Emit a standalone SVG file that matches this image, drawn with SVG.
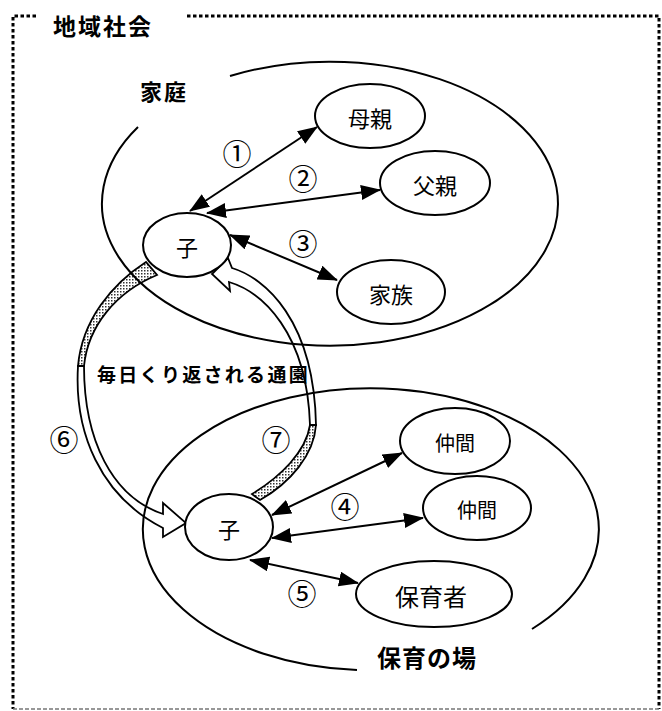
<svg xmlns="http://www.w3.org/2000/svg" width="662" height="711" viewBox="0 0 662 711">
<style>
.bg{fill:#fff}
.frame{fill:none;stroke:#000;stroke-width:3;stroke-dasharray:3.5 2.5}
.frame2{fill:none;stroke:#777;stroke-width:1.5;stroke-dasharray:4 2}
.region{fill:none;stroke:#000;stroke-width:2}
.node{fill:#fff;stroke:#000;stroke-width:2}
.conn{fill:none;stroke:#000;stroke-width:2}
.band{fill:#fff;stroke:#000;stroke-width:1.8;stroke-linejoin:miter}
.shade{fill:url(#stip);stroke:#000;stroke-width:1.8}
.lbl{font-family:"Noto Sans CJK JP","Noto Sans",sans-serif;font-size:22px;fill:#000;text-anchor:middle;dominant-baseline:central}
.sm{font-size:20px}
.big{font-size:24px}
.head{font-family:"Noto Sans CJK JP","Noto Sans",sans-serif;font-weight:700;fill:#000;dominant-baseline:central}
.num{font-family:"Noto Sans CJK JP","DejaVu Sans",sans-serif;font-size:29px;fill:#000;text-anchor:middle;dominant-baseline:central}
</style>
<defs>
<pattern id="stip" width="3" height="3" patternUnits="userSpaceOnUse"><rect width="3" height="3" fill="#fff"/><rect width="1.5" height="1.5" fill="#333"/></pattern>
<marker id="ah" viewBox="0 0 20 15" refX="19" refY="7.5" markerWidth="20" markerHeight="15" markerUnits="userSpaceOnUse" orient="auto-start-reverse"><path d="M0,0 L20,7.5 L0,15 Z" fill="#000"/></marker>
</defs>
<rect class="bg" width="662" height="711"/>

<g id="frame">
<path class="frame" d="M36,16 L13,16 L13,709"/>
<path class="frame" d="M187,16 L659,16 L659,709"/>
<path class="frame2" d="M13,709 L659,709"/>
<text class="head" x="53" y="25" font-size="23" letter-spacing="2">地域社会</text>
</g>

<g id="arrows-commute">
<path class="shade" d="M146,262 C112,284 82,320 78,366 L84,366 C88,326 116,292 157,275 Z"/>
<path class="band" d="M84,366 C84,440 112,497 163,514 L163,503 L186,523 L163,537 L163,528 C100,496 74,432 78,366 Z"/>
<path class="band" d="M232,268 C265,278 314,320 316,425 L310,425 C307,332 262,292 229,282 L230,291 L212,274 L228,258 Z"/>
<path class="shade" d="M316,425 C314,455 290,483 260,500 L252,494 C280,477 306,452 310,425 Z"/>
</g>

<g id="home">
<path class="region" d="M138,127 A228,142 0 1 0 230,76"/>
<text class="head" x="140" y="90" font-size="22" letter-spacing="2">家庭</text>
</g>

<g id="nursery">
<path class="region" d="M357,670 A228,141 0 1 1 532,629"/>
<text class="head" x="377" y="656" font-size="24" letter-spacing="1">保育の場</text>
</g>

<text class="head" x="97" y="373" font-size="19" letter-spacing="2.3">毎日くり返される通園</text>

<g id="connectors">
<line class="conn" x1="190" y1="211" x2="317" y2="127" marker-start="url(#ah)" marker-end="url(#ah)"/>
<line class="conn" x1="207" y1="213" x2="380" y2="190" marker-start="url(#ah)" marker-end="url(#ah)"/>
<line class="conn" x1="230" y1="235" x2="337" y2="280" marker-start="url(#ah)" marker-end="url(#ah)"/>
<line class="conn" x1="272" y1="515" x2="402" y2="453" marker-start="url(#ah)" marker-end="url(#ah)"/>
<line class="conn" x1="272" y1="538" x2="423" y2="518" marker-start="url(#ah)" marker-end="url(#ah)"/>
<line class="conn" x1="250" y1="560" x2="358" y2="583" marker-start="url(#ah)" marker-end="url(#ah)"/>
</g>

<g id="labels">
<text class="num" x="237" y="152">①</text>
<text class="num" x="303" y="177">②</text>
<text class="num" x="303" y="242">③</text>
<text class="num" x="345" y="505">④</text>
<text class="num" x="302" y="592">⑤</text>
<text class="num" x="64" y="438">⑥</text>
<text class="num" x="276" y="438">⑦</text>
</g>

<g id="node-mother"><ellipse class="node" cx="370" cy="116" rx="55" ry="32"/><text class="lbl" x="370" y="117">母親</text></g>
<g id="node-father"><ellipse class="node" cx="435" cy="183" rx="55" ry="32"/><text class="lbl" x="435" y="184">父親</text></g>
<g id="node-child-home"><ellipse class="node" cx="187" cy="245" rx="44" ry="32"/><text class="lbl" x="187" y="246">子</text></g>
<g id="node-family"><ellipse class="node" cx="391" cy="292" rx="54" ry="32"/><text class="lbl" x="391" y="293">家族</text></g>
<g id="node-child-nursery"><ellipse class="node" cx="229" cy="527" rx="44" ry="33"/><text class="lbl" x="229" y="528">子</text></g>
<g id="node-peer1"><ellipse class="node" cx="455" cy="441" rx="55" ry="33"/><text class="lbl sm" x="455" y="442">仲間</text></g>
<g id="node-peer2"><ellipse class="node" cx="477" cy="508" rx="54" ry="32"/><text class="lbl sm" x="477" y="509">仲間</text></g>
<g id="node-teacher"><ellipse class="node" cx="434" cy="594" rx="78" ry="33"/><text class="lbl big" x="431" y="595">保育者</text></g>
</svg>
